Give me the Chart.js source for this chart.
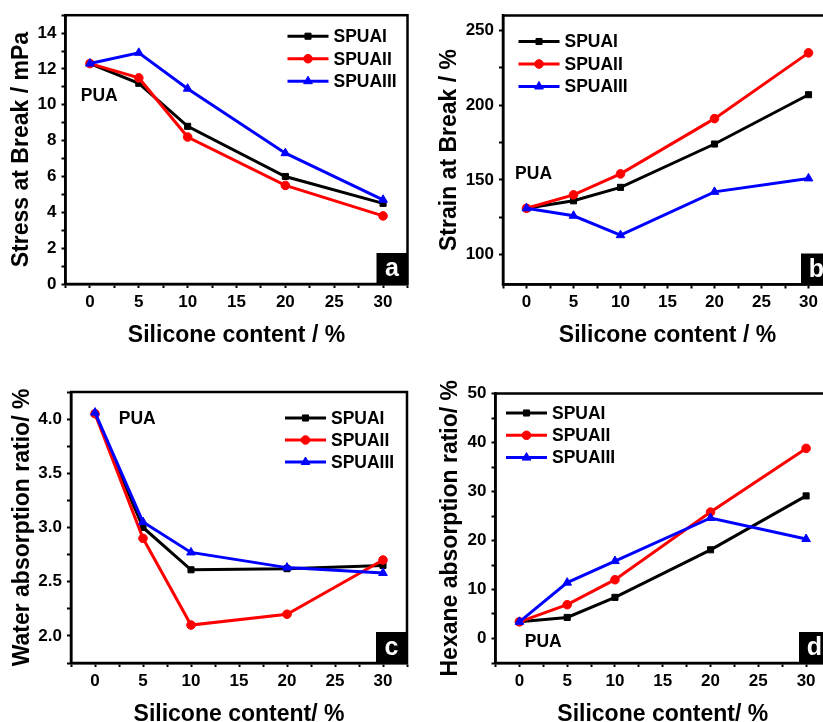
<!DOCTYPE html>
<html>
<head>
<meta charset="utf-8">
<script src="https://cdn.jsdelivr.net/npm/chart.js@4.4.0/dist/chart.umd.min.js"></script>
<style>
  html, body { margin:0; padding:0; background:#fff; overflow:hidden; width:823px; height:722px; }
  canvas { position:absolute; }
</style>
</head>
<body>
<canvas id="ca"></canvas>
<canvas id="cb"></canvas>
<canvas id="cc"></canvas>
<canvas id="cd"></canvas>
<script>
// ---- data ----
const categories = [0, 5, 10, 20, 30];
const seriesNames = ['SPUAI', 'SPUAII', 'SPUAIII'];

const stressI   = [12.3, 11.2, 8.8, 6.0, 4.5];
const stressII  = [12.3, 11.5, 8.2, 5.5, 3.8];
const stressIII = [12.3, 12.9, 10.9, 7.3, 4.7];

const strainI   = [131, 136, 145, 174, 207];
const strainII  = [131, 140, 154, 191, 235];
const strainIII = [131, 126, 113, 142, 151];

const waterI   = [4.05, 3.0, 2.61, 2.62, 2.65];
const waterII  = [4.05, 2.9, 2.1, 2.2, 2.7];
const waterIII = [4.06, 3.05, 2.77, 2.63, 2.58];

const hexaneI   = [3.4, 4.3, 8.4, 18.1, 29.1];
const hexaneII  = [3.4, 6.9, 12.0, 25.8, 38.8];
const hexaneIII = [3.4, 11.4, 15.8, 24.6, 20.3];

const xTickValues = [0, 5, 10, 15, 20, 25, 30];
const xTickLabels = ['0', '5', '10', '15', '20', '25', '30'];
const stressTickValues = [0, 2, 4, 6, 8, 10, 12, 14];
const stressTickLabels = ['0', '2', '4', '6', '8', '10', '12', '14'];
const strainTickValues = [100, 150, 200, 250];
const strainTickLabels = ['100', '150', '200', '250'];
const waterTickValues = [2.0, 2.5, 3.0, 3.5, 4.0];
const waterTickLabels = ['2.0', '2.5', '3.0', '3.5', '4.0'];
const hexaneTickValues = [0, 10, 20, 30, 40, 50];
const hexaneTickLabels = ['0', '10', '20', '30', '40', '50'];

// ---- styling ----
const colors = ['#000000', '#ff0000', '#0000ff'];
const pstyles = ['rect', 'circle', 'triangle'];
const pradii = [4.3, 4.3, 5];
const FONT = "'Liberation Sans', Arial, sans-serif";

function labelFor(values, labels) {
  return function (v) {
    for (let i = 0; i < values.length; i++) {
      if (Math.abs(values[i] - v) < 1e-6) return labels[i];
    }
    return '';
  };
}

const panelPlugin = {
  id: 'panel',
  afterDraw(chart, args, o) {
    const ctx = chart.ctx;
    const a = chart.chartArea;
    ctx.save();
    // frame
    ctx.strokeStyle = '#000';
    ctx.lineWidth = 2.5;
    ctx.strokeRect(a.left, a.top, a.right - a.left, a.bottom - a.top);
    // legend
    const lx = a.left + o.legend[0], ly = a.top + o.legend[1];
    chart.data.datasets.forEach((ds, i) => {
      const y = ly + i * o.legendGap;
      ctx.strokeStyle = ds.borderColor;
      ctx.lineWidth = 3;
      ctx.beginPath();
      ctx.moveTo(lx, y);
      ctx.lineTo(lx + 41, y);
      ctx.stroke();
      ctx.fillStyle = ds.backgroundColor;
      ctx.strokeStyle = ds.borderColor;
      ctx.lineWidth = 1;
      Chart.helpers.drawPoint(ctx, {pointStyle: ds.pointStyle, radius: ds.pointRadius, borderWidth: 1}, lx + 20.5, y);
      ctx.fillStyle = '#000';
      ctx.font = "bold 17.5px " + FONT;
      ctx.textAlign = 'left';
      ctx.textBaseline = 'middle';
      ctx.fillText(ds.label, lx + 46, y + 1);
    });
    // PUA annotation
    const xs = chart.scales.x, ys = chart.scales.y;
    ctx.fillStyle = '#000';
    ctx.font = "bold 17.5px " + FONT;
    ctx.textAlign = 'center';
    ctx.textBaseline = 'middle';
    ctx.fillText(o.note.text, xs.getPixelForValue(o.note.x), ys.getPixelForValue(o.note.y));
    // panel letter box
    const s = 31;
    ctx.fillStyle = '#000';
    ctx.fillRect(a.right - s, a.bottom - s, s, s);
    ctx.fillStyle = '#fff';
    ctx.font = "bold 25px " + FONT;
    ctx.textAlign = 'center';
    ctx.textBaseline = 'middle';
    ctx.fillText(o.letter, a.right - s / 2, a.bottom - s / 2 + 1);
    ctx.restore();
  }
};

function buildChart(id, cfg) {
  const C = cfg.canvas, A = cfg.area;
  const cv = document.getElementById(id);
  cv.width = C.w; cv.height = C.h;
  cv.style.left = C.x + 'px'; cv.style.top = C.y + 'px';
  cv.style.width = C.w + 'px'; cv.style.height = C.h + 'px';
  const tickFont = {family: FONT, size: 17, weight: 'bold'};
  const titleFont = {family: FONT, size: 23, weight: 'bold', lineHeight: 1};
  new Chart(cv, {
    type: 'line',
    data: {
      datasets: cfg.series.map((s, i) => ({
        label: seriesNames[i],
        data: categories.map((c, k) => ({x: c, y: s[k]})),
        borderColor: colors[i],
        backgroundColor: colors[i],
        pointStyle: pstyles[i],
        pointRadius: pradii[i],
        pointBorderWidth: 1,
        borderWidth: 3,
        tension: 0,
        order: 2 - i
      }))
    },
    options: {
      responsive: false,
      animation: false,
      devicePixelRatio: 1,
      layout: {padding: {left: 0, top: A.t - C.y, right: C.x + C.w - A.r, bottom: 0}},
      plugins: {
        legend: {display: false},
        tooltip: {enabled: false},
        panel: {legend: cfg.legend, legendGap: cfg.legendGap, note: cfg.note, letter: cfg.letter}
      },
      scales: {
        x: {
          type: 'linear', position: 'bottom', min: -2.5, max: 32.5,
          afterFit: s => { s.height = C.y + C.h - A.b; },
          ticks: {stepSize: 2.5, autoSkip: false, maxTicksLimit: 100, maxRotation: 0, includeBounds: false,
                  padding: 4, color: '#000', font: tickFont, callback: labelFor(xTickValues, xTickLabels)},
          grid: {drawOnChartArea: false, drawTicks: true, tickLength: 4, tickWidth: 2, tickColor: '#000'},
          border: {display: true, color: '#000', width: 2.5},
          title: {display: true, text: cfg.xTitle, color: '#000', font: titleFont, padding: {top: 0, bottom: cfg.xTitlePad}}
        },
        y: {
          type: 'linear', position: 'left', min: cfg.yMin, max: cfg.yMax,
          afterFit: s => { s.width = A.l - C.x; },
          ticks: {stepSize: cfg.yStep, autoSkip: false, maxTicksLimit: 100, includeBounds: false,
                  padding: 5, color: '#000', font: tickFont, callback: labelFor(cfg.yVals, cfg.yLabels)},
          grid: {drawOnChartArea: false, drawTicks: true, tickLength: 4, tickWidth: 2, tickColor: '#000'},
          border: {display: true, color: '#000', width: 2.5},
          title: {display: true, text: cfg.yTitle, color: '#000', font: titleFont, padding: {top: cfg.yTitlePad, bottom: 0}}
        }
      }
    },
    plugins: [panelPlugin]
  });
}

buildChart('ca', {
  canvas: {x: 0, y: 0, w: 415, h: 352},
  area: {l: 65.5, t: 15, r: 407.5, b: 284},
  series: [stressI, stressII, stressIII],
  yMin: 0, yMax: 15, yStep: 1, yVals: stressTickValues, yLabels: stressTickLabels,
  xTitle: 'Silicone content / %', yTitle: 'Stress at Break / mPa',
  xTitlePad: 4.5, yTitlePad: 10.5,
  legend: [222, 21], legendGap: 22.5,
  note: {text: 'PUA', x: 0.95, y: 10.5}, letter: 'a'
});

buildChart('cb', {
  canvas: {x: 415, y: 0, w: 425, h: 352},
  area: {l: 503, t: 15.5, r: 832, b: 284.5},
  series: [strainI, strainII, strainIII],
  yMin: 80, yMax: 260, yStep: 25, yVals: strainTickValues, yLabels: strainTickLabels,
  xTitle: 'Silicone content / %', yTitle: 'Strain at Break / %',
  xTitlePad: 4.5, yTitlePad: 23.5,
  legend: [15.5, 26], legendGap: 22.5,
  note: {text: 'PUA', x: 0.75, y: 153.5}, letter: 'b'
});

buildChart('cc', {
  canvas: {x: 0, y: 360, w: 415, h: 370},
  area: {l: 71, t: 392, r: 407, b: 663},
  series: [waterI, waterII, waterIII],
  yMin: 1.75, yMax: 4.25, yStep: 0.25, yVals: waterTickValues, yLabels: waterTickLabels,
  xTitle: 'Silicone content/ %', yTitle: 'Water absorption ratio/ %',
  xTitlePad: 4, yTitlePad: 11,
  legend: [214, 26], legendGap: 22,
  note: {text: 'PUA', x: 4.4, y: 4.0}, letter: 'c'
});

buildChart('cd', {
  canvas: {x: 415, y: 360, w: 425, h: 370},
  area: {l: 495.5, t: 393.5, r: 830, b: 663},
  series: [hexaneI, hexaneII, hexaneIII],
  yMin: -5, yMax: 50, yStep: 5, yVals: hexaneTickValues, yLabels: hexaneTickLabels,
  xTitle: 'Silicone content/ %', yTitle: 'Hexane absorption ratio/ %',
  xTitlePad: 4, yTitlePad: 24.5,
  legend: [10.5, 19.5], legendGap: 22.3,
  note: {text: 'PUA', x: 2.5, y: -0.75}, letter: 'd'
});
</script>
</body>
</html>
